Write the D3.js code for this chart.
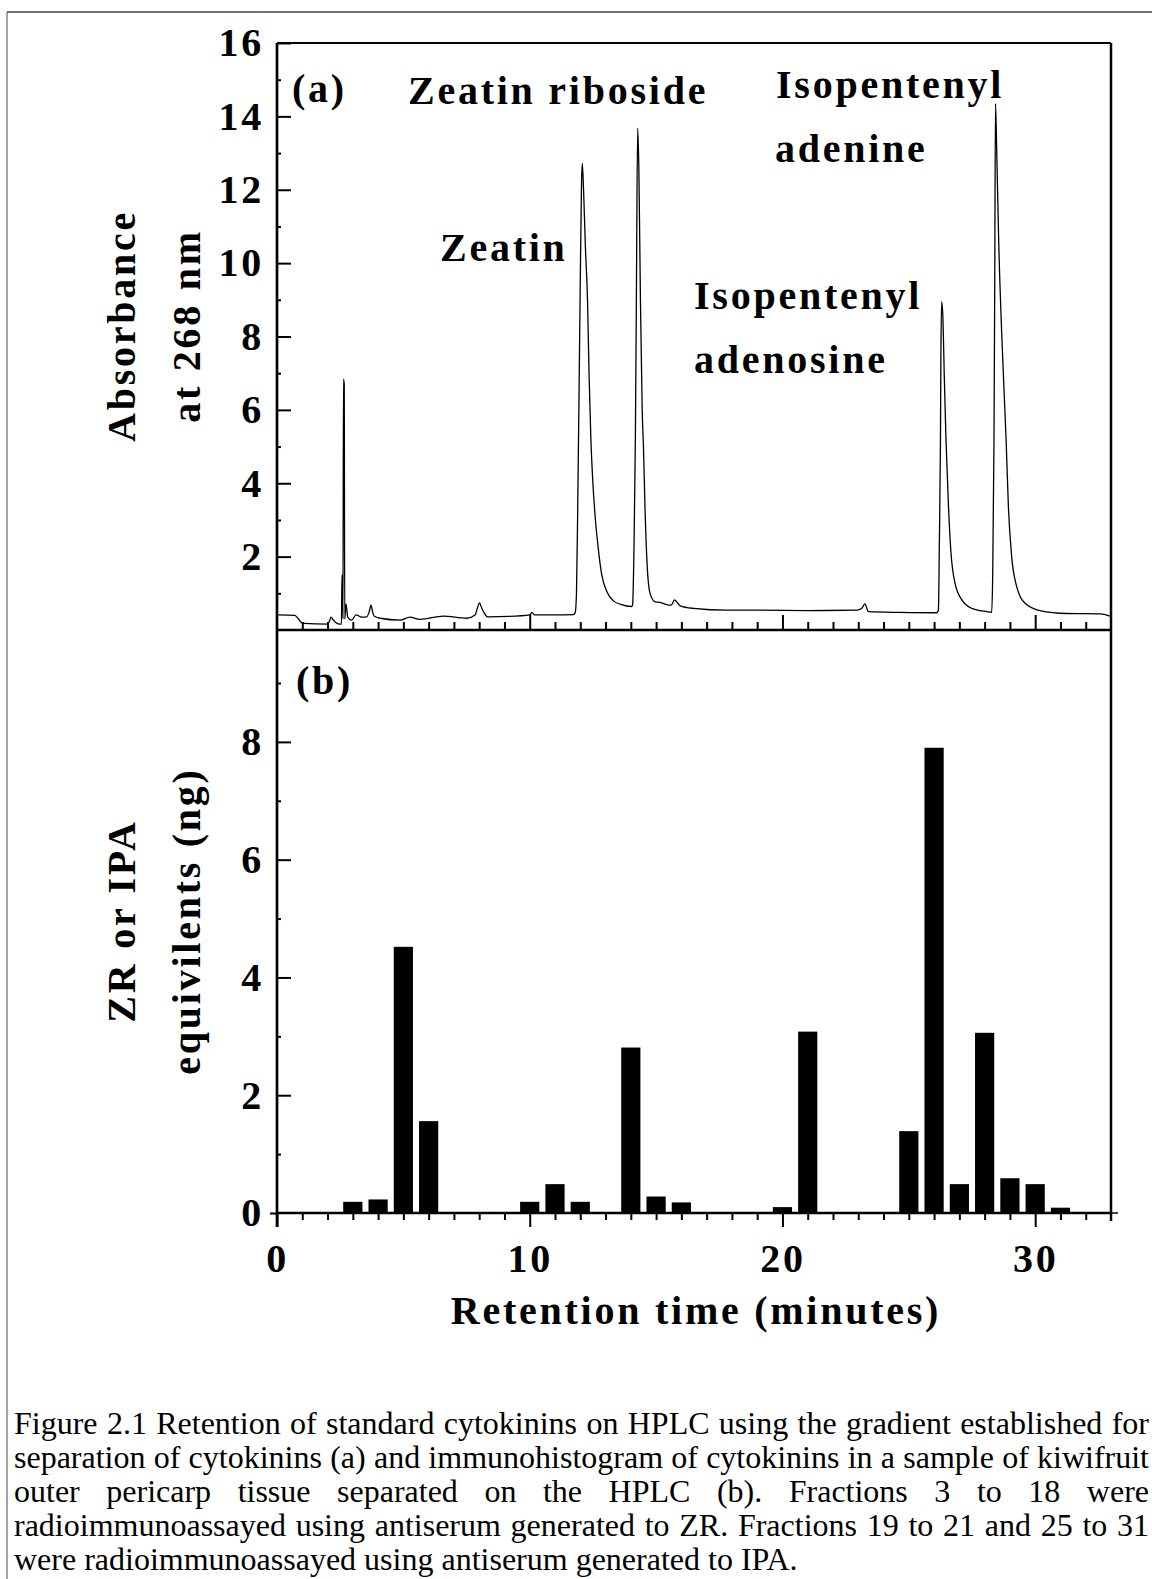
<!DOCTYPE html>
<html>
<head>
<meta charset="utf-8">
<script src="https://cdnjs.cloudflare.com/ajax/libs/d3/7.8.5/d3.min.js"></script>
<style>
  html, body { margin: 0; padding: 0; background: #fff; }
  svg { display: block; }
  .lbl { font-family: "Liberation Serif", "Times New Roman", serif; font-weight: bold; font-size: 40px; letter-spacing: 2.75px; fill: #000; }
  .cap { font-family: "Liberation Serif", "Times New Roman", serif; font-size: 32px; fill: #000; }
</style>
</head>
<body>
<svg width="1152" height="1579"></svg>
<script>
// ---- data ----
// (a) HPLC trace: retention time (min) and absorbance at 268 nm
const traceTime = [0.05, 0.7, 0.85, 0.95, 1.05, 2.0, 2.08, 2.14, 2.22, 2.3, 2.47, 2.55, 2.57, 2.59, 2.61, 2.63, 2.66, 2.68,
  2.73, 2.8, 2.95, 3.13, 3.35, 3.55, 3.65, 3.72, 3.78, 3.84, 4.08, 4.87, 5.26, 5.66, 6.58, 7.5, 7.84, 7.93, 8.01, 8.1,
  8.17, 8.33, 9.2, 10.01, 10.08, 10.2, 11.0, 11.73, 11.8, 11.85, 11.9, 11.96, 12.0, 12.05, 12.08, 12.13, 12.2, 12.29,
  12.35, 12.42, 12.5, 12.6, 12.7, 12.85, 13.05, 13.3, 13.6, 14.03, 14.07, 14.13, 14.18, 14.22, 14.27, 14.32, 14.38,
  14.45, 14.5, 14.56, 14.65, 14.76, 14.96, 15.16, 15.49, 15.6, 15.73, 15.95, 16.48, 17.8, 19.1, 21.0, 22.95, 23.15,
  23.26, 23.4, 24.65, 26.1, 26.17, 26.21, 26.25, 26.27, 26.3, 26.35, 26.4, 26.47, 26.57, 26.66, 26.83, 27.1, 27.49,
  28.08, 28.28, 28.32, 28.37, 28.4, 28.43, 28.48, 28.56, 28.68, 28.85, 28.94, 29.07, 29.27, 29.6, 30.19, 31.25, 32.57, 32.96];
const traceAbs = [0.41, 0.40, 0.30, 0.21, 0.18, 0.16, 0.25, 0.35, 0.28, 0.22, 0.16, 0.16, 1.5, 1.45, 0.3, 6.84, 6.7, 0.3,
  0.71, 0.35, 0.27, 0.41, 0.35, 0.36, 0.5, 0.68, 0.5, 0.38, 0.32, 0.27, 0.35, 0.29, 0.38, 0.32, 0.41, 0.6, 0.74, 0.6,
  0.5, 0.36, 0.37, 0.41, 0.48, 0.41, 0.41, 0.42, 0.48, 1.0, 3.4, 7.0, 9.5, 12.2, 12.72, 12.0, 10.5, 8.9,
  6.9, 5.2, 4.0, 3.0, 2.3, 1.5, 1.05, 0.8, 0.7, 0.64, 0.68, 2.45, 5.2, 9.0, 13.68, 12.5, 9.0,
  6.0, 5.0, 3.36, 1.72, 1.0, 0.77, 0.75, 0.68, 0.68, 0.82, 0.66, 0.59, 0.54, 0.54, 0.53, 0.54, 0.6,
  0.71, 0.5, 0.48, 0.47, 0.54, 2.45, 5.0, 7.5, 8.95, 8.5, 7.0, 5.2, 3.36, 2.18, 1.27, 0.82, 0.59,
  0.5, 0.48, 1.54, 5.18, 9.5, 14.35, 13.0, 10.5, 8.0, 5.18, 3.36, 2.0, 1.18, 0.73, 0.53, 0.45, 0.44, 0.38];

// (b) immunohistogram: fraction (min) and ZR / IPA equivalents (ng)
const fractions = [1, 2, 3, 4, 5, 6, 7, 8, 9, 10, 11, 12, 13, 14, 15, 16, 17, 18, 19, 20, 21, 22, 23, 24, 25, 26, 27, 28, 29, 30, 31, 32];
const ngValues  = [0, 0, 0.19, 0.23, 4.52, 1.56, 0, 0, 0, 0.19, 0.49, 0.19, 0, 2.81, 0.28, 0.18, 0, 0, 0, 0.1, 3.08, 0, 0, 0, 1.39, 7.9, 0.49, 3.06, 0.59, 0.49, 0.09, 0];

// ticks
const absTicks = [2, 4, 6, 8, 10, 12, 14, 16];
const absMinor = [1, 3, 5, 7, 9, 11, 13, 15];
const ngTicks = [0, 2, 4, 6, 8];
const ngMinor = [1, 3, 5, 7, 9];
const timeMajor = [0, 10, 20, 30];
const timeMinor = [1, 2, 3, 4, 5, 6, 7, 8, 9, 11, 12, 13, 14, 15, 16, 17, 18, 19, 21, 22, 23, 24, 25, 26, 27, 28, 29, 31, 32];

const captionLines = [
  "Figure 2.1 Retention of standard cytokinins on HPLC using the gradient established for",
  "separation of cytokinins (a) and immunohistogram of cytokinins in a sample of kiwifruit",
  "outer pericarp tissue separated on the HPLC (b). Fractions 3 to 18 were",
  "radioimmunoassayed using antiserum generated to ZR. Fractions 19 to 21 and 25 to 31",
  "were radioimmunoassayed using antiserum generated to IPA."
];

// ---- layout ----
const svg = d3.select("svg");
const left = 277, right = 1111, topA = 43, baseA = 630, baseB = 1213;

const x = d3.scaleLinear().domain([0, 33]).range([left, right]);
const yA = d3.scaleLinear().domain([0, 16]).range([baseA, topA]);
const yB = d3.scaleLinear().domain([0, 9.9]).range([baseB, baseA]);

// scanned page border
svg.append("line").attr("x1", 7).attr("x2", 1152).attr("y1", 12).attr("y2", 12)
  .attr("stroke", "#444").attr("stroke-width", 1.3);
svg.append("line").attr("x1", 7).attr("x2", 7).attr("y1", 12).attr("y2", 1579)
  .attr("stroke", "#666").attr("stroke-width", 1.2);

// frame lines
svg.append("line").attr("x1", left).attr("x2", right).attr("y1", topA).attr("y2", topA)
  .attr("stroke", "#000").attr("stroke-width", 2);
svg.append("line").attr("x1", right).attr("x2", right).attr("y1", topA).attr("y2", baseB + 8)
  .attr("stroke", "#000").attr("stroke-width", 2.5);
svg.append("line").attr("x1", right).attr("x2", right + 7).attr("y1", baseB).attr("y2", baseB)
  .attr("stroke", "#000").attr("stroke-width", 1.5);
svg.append("line").attr("x1", left).attr("x2", left).attr("y1", topA).attr("y2", baseB + 14)
  .attr("stroke", "#000").attr("stroke-width", 2.7);
svg.append("line").attr("x1", left).attr("x2", right).attr("y1", baseA).attr("y2", baseA)
  .attr("stroke", "#000").attr("stroke-width", 2.5);
svg.append("line").attr("x1", left).attr("x2", right).attr("y1", baseB).attr("y2", baseB)
  .attr("stroke", "#000").attr("stroke-width", 2.5);

function styleAxis(g) {
  g.select(".domain").remove();
  g.selectAll("line").attr("stroke-width", 2);
  g.selectAll("text").attr("class", "lbl");
}

// y axes
svg.append("g").attr("transform", `translate(${left},0)`)
  .call(d3.axisLeft(yA).tickValues(absTicks).tickSizeInner(-14).tickSizeOuter(0).tickPadding(13))
  .call(styleAxis);
svg.append("g").attr("transform", `translate(${left},0)`)
  .call(d3.axisLeft(yA).tickValues(absMinor).tickSizeInner(-4).tickSizeOuter(0).tickFormat(""))
  .call(styleAxis);

const gyB = svg.append("g").attr("transform", `translate(${left},0)`)
  .call(d3.axisLeft(yB).tickValues(ngTicks).tickSizeInner(-14).tickSizeOuter(0).tickPadding(13))
  .call(styleAxis);
gyB.selectAll(".tick").filter(d => d === 0).select("line").attr("x2", -7);
svg.append("g").attr("transform", `translate(${left},0)`)
  .call(d3.axisLeft(yB).tickValues(ngMinor).tickSizeInner(-4).tickSizeOuter(0).tickFormat(""))
  .call(styleAxis);

// x axes: (a) ticks point up, (b) ticks point down with labels
svg.append("g").attr("transform", `translate(0,${baseA})`)
  .call(d3.axisBottom(x).tickValues(timeMinor).tickSizeInner(-8).tickSizeOuter(0).tickFormat(""))
  .call(styleAxis);
svg.append("g").attr("transform", `translate(0,${baseA})`)
  .call(d3.axisBottom(x).tickValues(timeMajor.slice(1)).tickSizeInner(-15).tickSizeOuter(0).tickFormat(""))
  .call(styleAxis);
svg.append("g").attr("transform", `translate(0,${baseB})`)
  .call(d3.axisBottom(x).tickValues(timeMinor).tickSizeInner(7).tickSizeOuter(0).tickFormat(""))
  .call(styleAxis);
svg.append("g").attr("transform", `translate(0,${baseB})`)
  .call(d3.axisBottom(x).tickValues(timeMajor).tickSizeInner(14).tickSizeOuter(0).tickPadding(17))
  .call(styleAxis);

// chromatogram
const trace = traceTime.map((t, i) => ({ t, a: traceAbs[i] }));
svg.append("path")
  .datum(trace)
  .attr("fill", "none")
  .attr("stroke", "#000")
  .attr("stroke-width", 1.3)
  .attr("stroke-linejoin", "round")
  .attr("d", d3.line().x(d => x(d.t)).y(d => yA(d.a)).curve(d3.curveMonotoneX));

// histogram bars
const barW = 0.76;
svg.selectAll("rect.bar")
  .data(fractions.map((f, i) => ({ f, v: ngValues[i] })).filter(d => d.v > 0))
  .enter().append("rect")
  .attr("class", "bar")
  .attr("x", d => x(d.f - barW / 2))
  .attr("width", d => x(barW) - x(0))
  .attr("y", d => yB(d.v))
  .attr("height", d => baseB - yB(d.v))
  .attr("fill", "#000");

// annotations
const notes = [
  { text: "(a)", x: 292, y: 102 },
  { text: "Zeatin riboside", x: 408, y: 104 },
  { text: "Isopentenyl", x: 776, y: 98 },
  { text: "adenine", x: 775, y: 162 },
  { text: "Zeatin", x: 440, y: 261 },
  { text: "Isopentenyl", x: 694, y: 309 },
  { text: "adenosine", x: 694, y: 373 },
  { text: "(b)", x: 296, y: 694 }
];
svg.selectAll("text.note").data(notes).enter().append("text")
  .attr("class", "lbl note")
  .attr("x", d => d.x).attr("y", d => d.y)
  .text(d => d.text);

// axis titles
const titles = [
  { text: "Absorbance", x: 135, y: 326 },
  { text: "at 268 nm", x: 200, y: 326 },
  { text: "ZR or IPA", x: 135, y: 921 },
  { text: "equivilents (ng)", x: 200, y: 921 }
];
svg.selectAll("text.ytitle").data(titles).enter().append("text")
  .attr("class", "lbl ytitle")
  .attr("text-anchor", "middle")
  .attr("transform", d => `translate(${d.x},${d.y}) rotate(-90)`)
  .text(d => d.text);

svg.append("text").attr("class", "lbl")
  .attr("text-anchor", "middle")
  .attr("x", (left + right) / 2 + 2).attr("y", 1324)
  .text("Retention time (minutes)");

// caption, justified on word gaps
const capLeft = 14, capRight = 1149, capTop = 1434, capStep = 34;
captionLines.forEach((line, i) => {
  const words = line.split(" ");
  const g = svg.append("g");
  const nodes = words.map(w => g.append("text").attr("class", "cap").attr("y", capTop + i * capStep).text(w));
  const widths = nodes.map(n => n.node().getComputedTextLength());
  const gap = i < captionLines.length - 1
    ? (capRight - capLeft - d3.sum(widths)) / (words.length - 1)
    : 32 * 0.25;
  let cx = capLeft;
  nodes.forEach((n, j) => { n.attr("x", cx); cx += widths[j] + gap; });
});
</script>
</body>
</html>
